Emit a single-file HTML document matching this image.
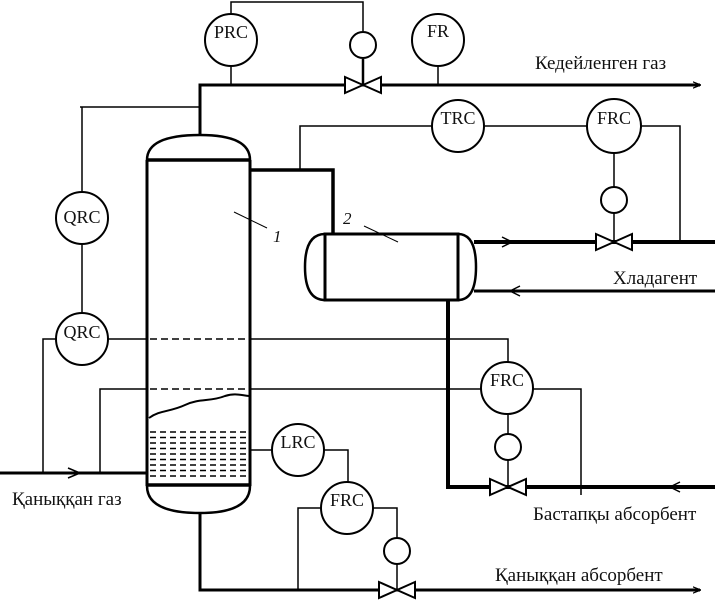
<!DOCTYPE html>
<html><head><meta charset="utf-8"><style>
html,body{margin:0;padding:0;background:#fff;}
svg{display:block;}
text{font-family:"Liberation Serif",serif;fill:#111;}
</style></head><body>
<svg width="715" height="600" viewBox="0 0 715 600" xmlns="http://www.w3.org/2000/svg">
<defs>
<marker id="ar" viewBox="0 0 10 10" refX="9" refY="5" markerWidth="8" markerHeight="8" markerUnits="userSpaceOnUse" orient="auto"><path d="M0,1 L10,5 L0,9" fill="none" stroke="#000" stroke-width="1.5"/></marker>
</defs>
<g fill="none" stroke="#000">
<path d="M147,160 Q147,135 200,135 Q250,135 250,160" stroke-width="2.5"/>
<line x1="147" y1="160" x2="250" y2="160" stroke-width="3.5"/>
<line x1="147" y1="160" x2="147" y2="486" stroke-width="3"/>
<line x1="250" y1="160" x2="250" y2="486" stroke-width="3"/>
<line x1="147" y1="485" x2="250" y2="485" stroke-width="3.5"/>
<path d="M147,486 Q147,513 200,513 Q250,513 250,486" stroke-width="2.5"/>
<g stroke-width="1.5" stroke-dasharray="6,4">
<line x1="150" y1="432" x2="248" y2="432"/><line x1="150" y1="437.5" x2="248" y2="437.5"/>
<line x1="150" y1="443" x2="248" y2="443"/><line x1="150" y1="448.5" x2="248" y2="448.5"/>
<line x1="150" y1="454" x2="248" y2="454"/><line x1="150" y1="459.5" x2="248" y2="459.5"/>
<line x1="150" y1="465" x2="248" y2="465"/><line x1="150" y1="470.5" x2="248" y2="470.5"/>
<line x1="150" y1="476" x2="248" y2="476"/>
</g>
<path d="M149,418 C160,410 170,412 185,405 C200,398 210,402 225,396 C235,393 240,395 249,396" stroke-width="2"/>
<polyline points="200,135 200,85 700,85" stroke-width="3" marker-end="url(#ar)"/>
<line x1="80" y1="107" x2="200" y2="107" stroke-width="1.5"/>
<line x1="231" y1="67" x2="231" y2="85" stroke-width="1.5"/>
<polyline points="231,13 231,2 363,2 363,31" stroke-width="1.5"/>
<line x1="363" y1="59" x2="363" y2="85" stroke-width="2.5"/>
<line x1="438" y1="67" x2="438" y2="85" stroke-width="1.5"/>
<polyline points="250,170 333,170 333,233" stroke-width="3.5"/>
<polyline points="300,170 300,126 432,126" stroke-width="1.5"/>
<line x1="485" y1="126" x2="587" y2="126" stroke-width="1.5"/>
<polyline points="641,126 680,126 680,241" stroke-width="1.5"/>
<line x1="614" y1="153" x2="614" y2="187" stroke-width="1.5"/>
<line x1="614" y1="213" x2="614" y2="242" stroke-width="1.5"/>
<rect x="325" y="234" width="133" height="66" stroke-width="3"/>
<path d="M325,234 Q305,234 305,267 Q305,300 325,300" stroke-width="2.5"/>
<path d="M458,234 Q476,234 476,267 Q476,300 458,300" stroke-width="2.5"/>
<line x1="474" y1="242" x2="715" y2="242" stroke-width="4"/>
<line x1="715" y1="291" x2="474" y2="291" stroke-width="3"/>
<path d="M502,237 L512,242 L502,247" stroke-width="1.5"/>
<path d="M520,286 L510,291 L520,296" stroke-width="1.5"/>
<polyline points="448,300 448,487 715,487" stroke-width="4"/>
<path d="M680,482 L670,487 L680,492" stroke-width="1.5"/>
<line x1="82" y1="107" x2="82" y2="192" stroke-width="1.5"/>
<line x1="82" y1="244" x2="82" y2="313" stroke-width="1.5"/>
<polyline points="56,339 43,339 43,473" stroke-width="1.5"/>
<line x1="108" y1="339" x2="147" y2="339" stroke-width="1.5"/>
<line x1="150" y1="339" x2="248" y2="339" stroke-width="1.5" stroke-dasharray="7,4"/>
<polyline points="250,339 508,339 508,362" stroke-width="1.5"/>
<polyline points="100,473 100,389 147,389" stroke-width="1.5"/>
<line x1="150" y1="389" x2="248" y2="389" stroke-width="1.5" stroke-dasharray="7,4"/>
<line x1="250" y1="389" x2="481" y2="389" stroke-width="1.5"/>
<polyline points="533,389 581,389 581,495" stroke-width="1.5"/>
<line x1="508" y1="414" x2="508" y2="434" stroke-width="1.5"/>
<line x1="508" y1="460" x2="508" y2="487" stroke-width="1.5"/>
<line x1="0" y1="473" x2="147" y2="473" stroke-width="3"/>
<path d="M68,468 L80,473 L68,478" stroke-width="1.5"/>
<line x1="250" y1="450" x2="272" y2="450" stroke-width="1.5"/>
<polyline points="324,450 348,450 348,482" stroke-width="1.5"/>
<polyline points="321,508 298,508 298,590" stroke-width="1.5"/>
<polyline points="373,508 397,508 397,538" stroke-width="1.5"/>
<line x1="397" y1="564" x2="397" y2="590" stroke-width="1.5"/>
<polyline points="200,513 200,590 700,590" stroke-width="3" marker-end="url(#ar)"/>
<g stroke-width="2" fill="#fff">
<circle cx="231" cy="40" r="26"/>
<circle cx="438" cy="40" r="26"/>
<circle cx="458" cy="126" r="26"/>
<circle cx="614" cy="126" r="27"/>
<circle cx="82" cy="218" r="26"/>
<circle cx="82" cy="339" r="26"/>
<circle cx="507" cy="388" r="26"/>
<circle cx="298" cy="450" r="26"/>
<circle cx="347" cy="508" r="26"/>
<circle cx="363" cy="45" r="13"/>
<circle cx="614" cy="200" r="13"/>
<circle cx="508" cy="447" r="13"/>
<circle cx="397" cy="551" r="13"/>
</g>
<g stroke-width="2" fill="#fff">
<path d="M345,77 L381,93 L381,77 L345,93 Z"/>
<path d="M596,234 L632,250 L632,234 L596,250 Z"/>
<path d="M490,479 L526,495 L526,479 L490,495 Z"/>
<path d="M379,582 L415,598 L415,582 L379,598 Z"/>
</g>
<line x1="234" y1="212" x2="267" y2="228" stroke-width="1"/>
<line x1="364" y1="226" x2="398" y2="242" stroke-width="1"/>
</g>
<g font-size="18" text-anchor="middle">
<text x="231" y="38">PRC</text>
<text x="438" y="37">FR</text>
<text x="458" y="124">TRC</text>
<text x="614" y="124">FRC</text>
<text x="82" y="223">QRC</text>
<text x="82" y="338">QRC</text>
<text x="507" y="386">FRC</text>
<text x="298" y="448">LRC</text>
<text x="347" y="506">FRC</text>
</g>
<text x="273" y="242" font-size="17" font-style="italic">1</text>
<text x="343" y="224" font-size="17" font-style="italic">2</text>
<g font-size="19">
<text x="535" y="69">Кедейленген газ</text>
<text x="613" y="284">Хладагент</text>
<text x="12" y="505">Қаныққан газ</text>
<text x="533" y="520">Бастапқы абсорбент</text>
<text x="495" y="581">Қаныққан абсорбент</text>
</g>
</svg>
</body></html>
